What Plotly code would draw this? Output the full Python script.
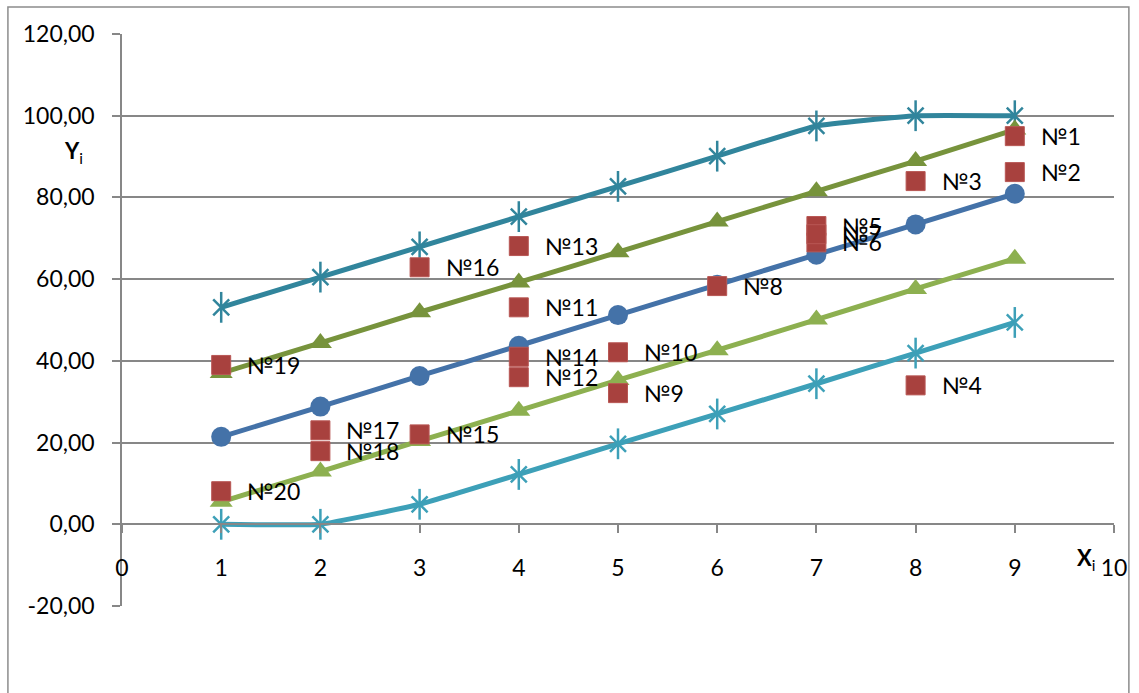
import plotly.graph_objects as go

# ---- data ----
x_vals = [1, 2, 3, 4, 5, 6, 7, 8, 9]
upper_star = [53.1, 60.5, 67.9, 75.3, 82.7, 90.1, 97.5, 100.0, 100.0]
upper_tri = [37.0, 44.4, 51.9, 59.2, 66.6, 74.1, 81.5, 88.9, 96.6]
middle_circ = [21.4, 28.8, 36.3, 43.7, 51.2, 58.6, 66.0, 73.4, 80.9]
lower_tri = [5.5, 12.9, 20.4, 27.8, 35.3, 42.6, 50.1, 57.6, 65.0]
lower_star = [0.0, 0.0, 4.9, 12.2, 19.7, 27.0, 34.4, 41.9, 49.4]

pt_labels = ["№1", "№2", "№3", "№4", "№5", "№6", "№7", "№8", "№9", "№10",
             "№11", "№12", "№13", "№14", "№15", "№16", "№17", "№18", "№19", "№20"]
pt_x = [9, 9, 8, 8, 7, 7, 7, 6, 5, 5, 4, 4, 4, 4, 3, 3, 2, 2, 1, 1]
pt_y = [95.0, 86.2, 84.0, 34.0, 73.0, 69.0, 71.0, 58.3, 32.1, 42.1,
        53.1, 36.0, 68.1, 41.0, 22.0, 62.9, 23.0, 17.9, 39.0, 8.1]

y_ticks = [-20, 0, 20, 40, 60, 80, 100, 120]
y_ticktext = ["-20,00", "0,00", "20,00", "40,00", "60,00", "80,00", "100,00", "120,00"]
x_ticks = [0, 1, 2, 3, 4, 5, 6, 7, 8, 9, 10]

FONT = "Lato"
GRID = "#878787"
SMOOTH = 0.35
LW = 5

fig = go.Figure()

def star_series(ys, color):
    fig.add_trace(go.Scatter(
        x=x_vals, y=ys, mode="lines+markers",
        line=dict(color=color, width=LW, shape="spline", smoothing=SMOOTH),
        marker=dict(symbol="x-thin-open", size=16, color=color,
                    line=dict(color=color, width=2.5)),
        showlegend=False, hoverinfo="skip"))
    fig.add_trace(go.Scatter(
        x=x_vals, y=ys, mode="markers",
        marker=dict(symbol="line-ns-open", size=22, color=color,
                    line=dict(color=color, width=2.5)),
        showlegend=False, hoverinfo="skip"))

star_series(upper_star, "#31859C")
fig.add_trace(go.Scatter(
    x=x_vals, y=upper_tri, mode="lines+markers",
    line=dict(color="#77933C", width=LW, shape="spline", smoothing=SMOOTH),
    marker=dict(symbol="triangle-up", size=20, color="#77933C"),
    showlegend=False, hoverinfo="skip"))
fig.add_trace(go.Scatter(
    x=x_vals, y=middle_circ, mode="lines+markers",
    line=dict(color="#4472A8", width=LW, shape="spline", smoothing=SMOOTH),
    marker=dict(symbol="circle", size=20, color="#4472A8"),
    showlegend=False, hoverinfo="skip"))
fig.add_trace(go.Scatter(
    x=x_vals, y=lower_tri, mode="lines+markers",
    line=dict(color="#8DB050", width=LW, shape="spline", smoothing=SMOOTH),
    marker=dict(symbol="triangle-up", size=20, color="#8DB050"),
    showlegend=False, hoverinfo="skip"))
star_series(lower_star, "#3DA0B8")

fig.add_trace(go.Scatter(
    x=pt_x, y=pt_y, mode="markers",
    marker=dict(symbol="square", size=19, color="#A8413E",
                line=dict(color="#B85754", width=1)),
    showlegend=False, hoverinfo="skip"))

annotations = []
for lx, ly, lt in zip(pt_x, pt_y, pt_labels):
    annotations.append(dict(x=lx, y=ly, text=lt, showarrow=False,
                            xanchor="left", yanchor="middle", xshift=24,
                            font=dict(family=FONT, size=23, color="#000000")))

annotations.append(dict(xref="paper", x=-0.06, y=91, text="<b>Y</b><sub>i</sub>",
                        showarrow=False, font=dict(family=FONT, size=22, color="#000000")))
annotations.append(dict(x=9.72, y=-8.6, text="<b>X</b><sub>i</sub>",
                        showarrow=False, font=dict(family=FONT, size=22, color="#000000")))

L, R, T, B = 122, 17, 34, 87
W, H = 1139, 693
pw, ph = W - L - R, H - T - B

def px2paper_x(p):
    return (p - L) / pw

def px2paper_y(p):
    return (H - B - p) / ph

shapes = [dict(type="rect", xref="paper", yref="paper",
               x0=px2paper_x(7), x1=px2paper_x(1137),
               y0=px2paper_y(710), y1=px2paper_y(7),
               line=dict(color="#8C8C8C", width=1.5), fillcolor="rgba(0,0,0,0)",
               layer="below")]

fig.update_layout(
    width=W, height=H,
    margin=dict(l=L, r=R, t=T, b=B),
    paper_bgcolor="white", plot_bgcolor="white",
    font=dict(family=FONT, size=23, color="#000000"),
    annotations=annotations,
    shapes=shapes,
    xaxis=dict(range=[0, 10], tickvals=x_ticks, ticks="outside", ticklen=8,
               tickcolor=GRID, tickwidth=1.5, showline=True, linecolor=GRID,
               linewidth=1.5, showgrid=False, zeroline=False,
               anchor="free", position=20 / 140, ticklabelstandoff=15,
               tickfont=dict(family=FONT, size=23)),
    yaxis=dict(range=[-20, 120], tickvals=y_ticks, ticktext=y_ticktext,
               ticks="outside", ticklen=8, tickcolor=GRID, tickwidth=1.5,
               showline=True, linecolor=GRID, linewidth=1.5, showgrid=True,
               gridcolor=GRID, gridwidth=1.5, zeroline=False,
               ticklabelstandoff=13, tickfont=dict(family=FONT, size=23)),
)

fig.write_html("out.html", config={"displayModeBar": False},
               post_script="document.body.style.margin='0';document.body.style.overflow='hidden';")
